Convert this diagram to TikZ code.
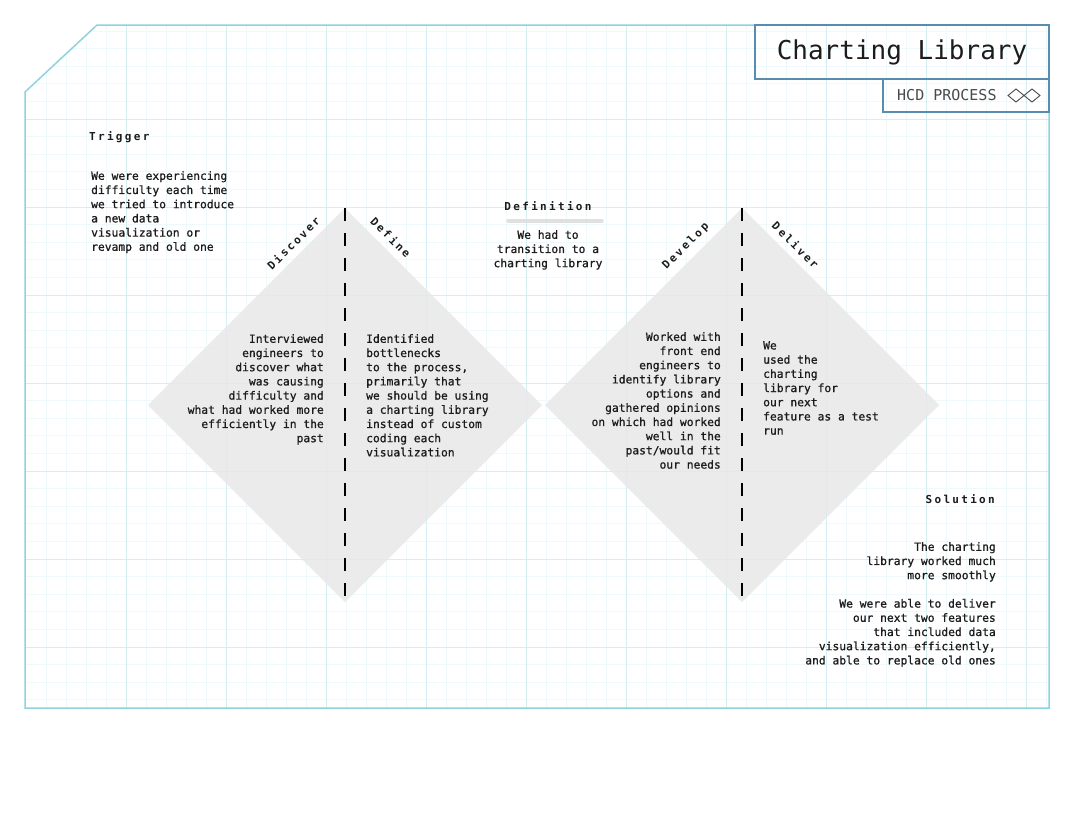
\documentclass[tikz,border=0pt]{standalone}
\usepackage{fontspec}
\setmonofont{DejaVu Sans Mono}
\usetikzlibrary{calc,positioning,shapes.geometric}

\definecolor{framecyan}{HTML}{8ED3DF}
\definecolor{gridmajor}{HTML}{D5EEF3}
\definecolor{gridminor}{HTML}{EFF8FA}
\definecolor{boxblue}{HTML}{5A8CAD}
\definecolor{diamondgray}{HTML}{E8E8E8}
\definecolor{inkblack}{HTML}{1C1C1C}
\definecolor{labelgray}{HTML}{4A4A4A}

\tikzset{
  body/.style={font=\ttfamily\fontsize{11.3}{14.2}\selectfont\addfontfeature{FakeBold=0.9},text=inkblack,inner sep=0pt},
  heading/.style={font=\ttfamily\bfseries\fontsize{11}{13}\selectfont\addfontfeature{LetterSpace=21},text=inkblack,inner sep=0pt},
  phase/.style={heading,sloped,above=7pt},
  diamondshape/.style={diamond,aspect=1,fill=diamondgray,fill opacity=0.85,draw=none,inner sep=0pt,outer sep=0pt,minimum width=394pt,minimum height=394pt},
  centerdash/.style={black,line width=1.3pt,dash pattern=on 13pt off 12pt},
  titlebox/.style={draw=boxblue,line width=1.2pt,outer sep=0pt,minimum width=294pt,minimum height=54pt,font=\ttfamily\fontsize{26}{30}\selectfont,text=inkblack},
  subbox/.style={draw=boxblue,line width=1.2pt,outer sep=0pt,minimum width=166pt,minimum height=33pt},
  proclabel/.style={font=\ttfamily\fontsize{15}{18}\selectfont,text=labelgray,inner sep=0pt},
  icon/.style={labelgray,line width=0.9pt,line join=miter}
}

\begin{document}
\begin{tikzpicture}[x=1pt,y=-1pt]
\useasboundingbox (0,0) rectangle (1077,812);
\fill[white] (0,0) rectangle (1077,812);

% grid paper
\begin{scope}
\clip (25,92) -- (97,25) -- (1049,25) -- (1049,708) -- (25,708) -- cycle;
\foreach \x in {46,66,...,1046} \draw[gridminor,line width=0.8pt] (\x,25) -- (\x,708);
\foreach \i in {0,...,38} \draw[gridminor,line width=0.8pt] (25,{31+17.6*\i}) -- (1049,{31+17.6*\i});
\foreach \x in {126,226,...,1026} \draw[gridmajor,line width=1pt] (\x,25) -- (\x,708);
\foreach \y in {119,207,...,647} \draw[gridmajor,line width=1pt] (25,\y) -- (1049,\y);
\end{scope}
\draw[framecyan,line width=1.5pt] (25,92) -- (97,25) -- (1049,25) -- (1049,708) -- (25,708) -- cycle;

% title
\node[titlebox] (title) at (902,52) {Charting Library};
\node[subbox,anchor=north east] (procbox) at (title.south east) {};
\node[proclabel,anchor=west] (proctext) at ([xshift=14pt]procbox.west) {HCD PROCESS};
\foreach \dx in {41,25}
  \draw[icon] ([xshift=-\dx pt]procbox.east) -- ++(8,-6.5) -- ++(8,6.5) -- ++(-8,6.5) -- cycle;

% double diamond
\node[diamondshape] (leftdia) at (345,405) {};
\node[diamondshape] (rightdia) at (742,405) {};
\draw[centerdash] (leftdia.north) -- (leftdia.south);
\draw[centerdash] (rightdia.north) -- (rightdia.south);
\path (leftdia.west) -- (leftdia.north) node[phase,pos=0.78] (discover) {Discover};
\path (leftdia.north) -- (leftdia.east) node[phase,pos=0.19] (define) {Define};
\path (rightdia.west) -- (rightdia.north) node[phase,pos=0.76] (develop) {Develop};
\path (rightdia.north) -- (rightdia.east) node[phase,pos=0.23] (deliver) {Deliver};

% trigger
\node[heading,anchor=north west] (trighead) at (89,131) {Trigger};
\node[body,anchor=north west,align=left] (trigtext) at (91,171)
  {We were experiencing\\difficulty each time\\we tried to introduce\\a new data\\visualization or\\revamp and old one};

% definition
\node[heading,anchor=north] (defhead) at (548,201) {Definition};
\draw[black!12,line width=4pt,line cap=round] ([xshift=4pt,yshift=-10pt]defhead.south west) -- ([xshift=10pt,yshift=-10pt]defhead.south east);
\node[body,anchor=north,align=center] (deftext) at (548,230)
  {We had to\\transition to a\\charting library};

% phase texts
\node[body,anchor=north east,align=right] (discovertext) at (324,334)
  {Interviewed\\engineers to\\discover what\\was causing\\difficulty and\\what had worked more\\efficiently in the\\past};
\node[body,anchor=north west,align=left] (definetext) at (366,334)
  {Identified\\bottlenecks\\to the process,\\primarily that\\we should be using\\a charting library\\instead of custom\\coding each\\visualization};
\node[body,anchor=north east,align=right] (developtext) at (721,332)
  {Worked with\\front end\\engineers to\\identify library\\options and\\gathered opinions\\on which had worked\\well in the\\past/would fit\\our needs};
\node[body,anchor=north west,align=left] (delivertext) at (763,341)
  {We\\used the\\charting\\library for\\our next\\feature as a test\\run};

% solution
\node[heading,anchor=north east] (solhead) at (995,494) {Solution};
\node[body,anchor=north east,align=right] (soltext) at (996,542)
  {The charting\\library worked much\\more smoothly\\[14.2pt]We were able to deliver\\our next two features\\that included data\\visualization efficiently,\\and able to replace old ones};
\end{tikzpicture}
\end{document}
